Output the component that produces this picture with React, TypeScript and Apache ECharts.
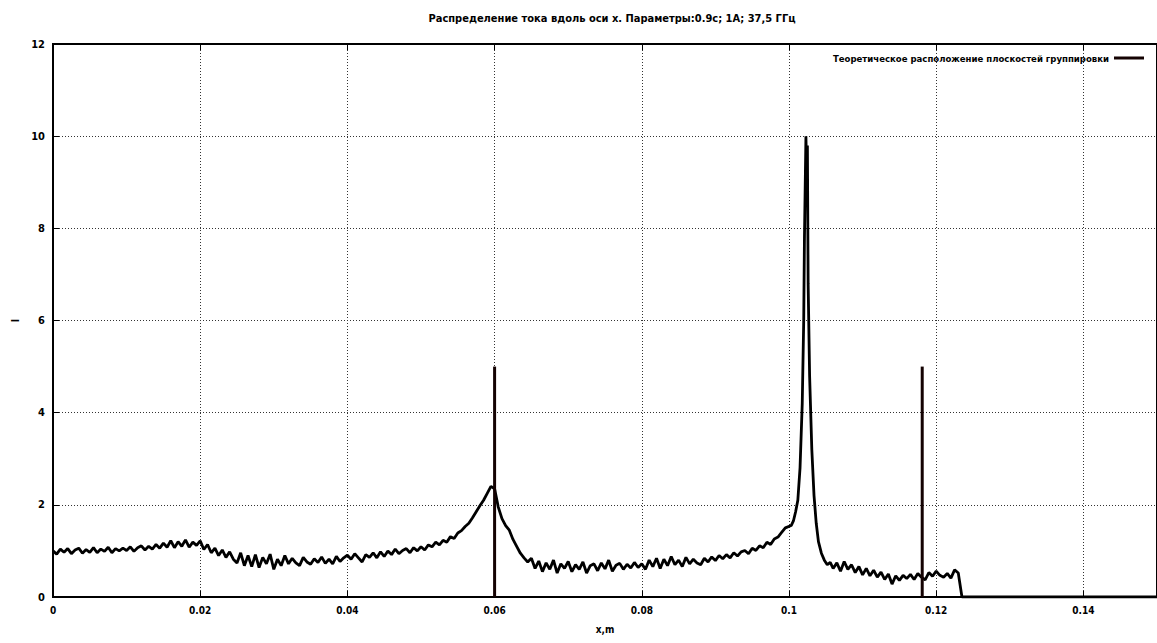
import React, { useEffect, useRef } from "react";
import * as echarts from "echarts";

const titleText = "Распределение тока вдоль оси x. Параметры:0.9c; 1A; 37,5 ГГц";
const legendName = "Теоретическое расположение плоскостей группировки";
const xName = "x,m";
const yName = "I";

// current, x from 0 to 0.0995, step 0.0005
const stepA = 0.0005;
const currentA = [
  1.0, 0.93, 1.04, 0.97, 1.05, 0.94, 1.02, 1.06, 0.95, 1.03, 0.97, 1.07, 0.96, 1.04, 0.99, 1.08, 0.96, 1.05, 1.0, 1.06,
  1.01, 1.09, 0.99, 1.07, 1.11, 1.02, 1.1, 1.04, 1.14, 1.06, 1.17, 1.08, 1.22, 1.07, 1.2, 1.1, 1.24, 1.08, 1.19, 1.12,
  1.22, 1.03, 1.14, 0.96, 1.06, 0.9, 1.02, 0.86, 0.98, 0.82, 0.74, 0.96, 0.68, 0.9, 0.66, 0.92, 0.64, 0.86, 0.72, 0.93,
  0.6, 0.82, 0.68, 0.9, 0.72, 0.84, 0.74, 0.68, 0.86, 0.76, 0.71, 0.83, 0.75, 0.87, 0.73, 0.82, 0.72, 0.88, 0.77, 0.85,
  0.91, 0.82, 0.94, 0.85, 0.76, 0.92, 0.86, 0.96, 0.85, 0.98, 0.88, 1.0, 0.92, 1.04, 0.94, 1.01, 1.05, 0.96, 1.07, 1.0,
  1.09, 1.02, 1.13, 1.09, 1.19, 1.13, 1.23, 1.19, 1.31, 1.27, 1.39, 1.44, 1.53, 1.6, 1.72, 1.85, 1.98, 2.1, 2.25, 2.4,
  2.35, 1.95, 1.7, 1.55, 1.45, 1.25, 1.1, 0.95, 0.85, 0.76, 0.84, 0.62, 0.78, 0.55, 0.74, 0.6, 0.8, 0.52, 0.72, 0.62,
  0.77, 0.55, 0.7, 0.6, 0.76, 0.52, 0.68, 0.72, 0.57, 0.74, 0.61, 0.8, 0.56, 0.69, 0.73, 0.6, 0.71, 0.63, 0.75, 0.64,
  0.72, 0.6, 0.8, 0.66, 0.84, 0.62, 0.82, 0.68, 0.88, 0.7, 0.8, 0.66, 0.86, 0.72, 0.82, 0.74, 0.7, 0.84, 0.76, 0.87,
  0.79, 0.9, 0.83, 0.92, 0.85, 0.96, 0.89, 0.98, 1.01, 0.94, 1.06, 1.01, 1.11, 1.07, 1.19, 1.14, 1.26, 1.3, 1.4, 1.5,
];

// peak region
const peakX = [0.1003, 0.1006, 0.1009, 0.1012, 0.1015, 0.1018, 0.1020, 0.1021, 0.1023, 0.1024, 0.1025, 0.1026, 0.1028, 0.1031, 0.1034, 0.1037, 0.104, 0.1044, 0.1048, 0.1052, 0.1056, 0.106];
const peakY = [1.55, 1.65, 1.85, 2.1, 2.8, 4.2, 6.0, 7.8, 10.0, 9.2, 9.8, 6.8, 4.8, 3.2, 2.2, 1.6, 1.2, 0.95, 0.8, 0.7, 0.75, 0.62];

// after peak, x from 0.1065 step 0.0005
const startB = 0.1065;
const currentB = [
  0.74, 0.56, 0.77, 0.6, 0.7, 0.53, 0.66, 0.48, 0.62, 0.46, 0.58, 0.43, 0.54, 0.38, 0.5, 0.28, 0.46, 0.36, 0.47, 0.4,
  0.49, 0.38, 0.51, 0.43, 0.37, 0.53, 0.45, 0.56, 0.47, 0.43, 0.51, 0.41, 0.59, 0.52,
];
const tailX = [0.1235, 0.15];
const tailY = [0, 0];

// theoretical bunching planes
const planeX = [0.06, 0.1181];
const planeTop = 5;

const xTicks = [0, 0.02, 0.04, 0.06, 0.08, 0.1, 0.12, 0.14];

const FONT = "'Liberation Sans Narrow', 'DejaVu Sans Condensed', 'Arial Narrow', sans-serif";

export default function App() {
  const ref = useRef<HTMLDivElement>(null);
  useEffect(() => {
    if (!ref.current) return;
    const chart = echarts.init(ref.current, null, { renderer: "svg" });
    const current: [number, number][] = [];
    currentA.forEach((v, i) => current.push([+(i * stepA).toFixed(5), v]));
    peakX.forEach((x, i) => current.push([x, peakY[i]]));
    currentB.forEach((v, i) => current.push([+(startB + i * stepA).toFixed(5), v]));
    tailX.forEach((x, i) => current.push([x, tailY[i]]));

    const planeSeries = planeX.map((x) => ({
      name: legendName,
      type: "line",
      data: [
        [x, 0],
        [x, planeTop],
      ],
      symbol: "none",
      lineStyle: { color: "#140202", width: 3 },
      itemStyle: { color: "#140202" },
      z: 3,
    }));

    chart.setOption({
      animation: false,
      backgroundColor: "#fff",
      title: {
        text: titleText,
        left: 607,
        textAlign: "center",
        top: 8,
        textStyle: { fontFamily: FONT, fontSize: 11, fontWeight: "bold", color: "#000" },
      },
      legend: {
        data: [legendName],
        right: 8,
        top: 48,
        align: "right",
        itemWidth: 30,
        itemHeight: 3,
        itemGap: 6,
        icon: "rect",
        textStyle: { fontFamily: FONT, fontSize: 9.5, fontWeight: "bold", color: "#000" },
      },
      grid: {
        left: 53,
        top: 44,
        right: -4,
        bottom: 46,
        show: true,
        borderColor: "#000",
        borderWidth: 2,
      },
      xAxis: [
        {
          type: "value",
          min: 0,
          max: 0.15,
          interval: 0.02,
          name: xName,
          nameLocation: "middle",
          nameGap: 27,
          nameTextStyle: { fontFamily: FONT, fontSize: 10, fontWeight: "bold", color: "#000" },
          axisLine: { show: true, lineStyle: { color: "#000", width: 2 } },
          axisTick: { show: true, inside: true, length: 6, lineStyle: { color: "#000", width: 1 } },
          axisLabel: {
            fontFamily: FONT,
            fontSize: 10,
            fontWeight: "bold",
            color: "#000",
            margin: 8,
            showMaxLabel: false,
            formatter: (v: number) => (xTicks.some((t) => Math.abs(t - v) < 1e-9) ? String(+v.toFixed(4)) : ""),
          },
          splitLine: { show: true, lineStyle: { color: "#333", type: [1, 2], width: 1 } },
        },
        {
          type: "value",
          position: "top",
          min: 0,
          max: 0.15,
          interval: 0.02,
          axisLine: { show: true, lineStyle: { color: "#000", width: 2 } },
          axisTick: { show: true, inside: true, length: 6, lineStyle: { color: "#000", width: 1 } },
          axisLabel: { show: false },
          splitLine: { show: false },
        },
      ],
      yAxis: {
        type: "value",
        min: 0,
        max: 12,
        interval: 2,
        name: yName,
        nameLocation: "middle",
        nameGap: 22,
        nameRotate: 90,
        nameTextStyle: { fontFamily: FONT, fontSize: 10, fontWeight: "bold", color: "#000" },
        axisLine: { show: true, lineStyle: { color: "#000", width: 2 } },
        axisTick: { show: true, inside: true, length: 6, lineStyle: { color: "#000", width: 1 } },
        axisLabel: { fontFamily: FONT, fontSize: 11, fontWeight: "bold", color: "#000", margin: 8 },
        splitLine: { show: true, lineStyle: { color: "#333", type: [1, 2], width: 1 } },
      },
      series: [
        {
          name: "I",
          type: "line",
          data: current,
          symbol: "none",
          lineStyle: { color: "#000", width: 2.8 },
          itemStyle: { color: "#000" },
          z: 2,
        },
        ...planeSeries,
      ],
    });
    return () => chart.dispose();
  }, []);
  return (
    <div
      ref={ref}
      style={{ position: "fixed", left: 0, top: 0, width: 1157, height: 643, background: "#fff" }}
    />
  );
}
